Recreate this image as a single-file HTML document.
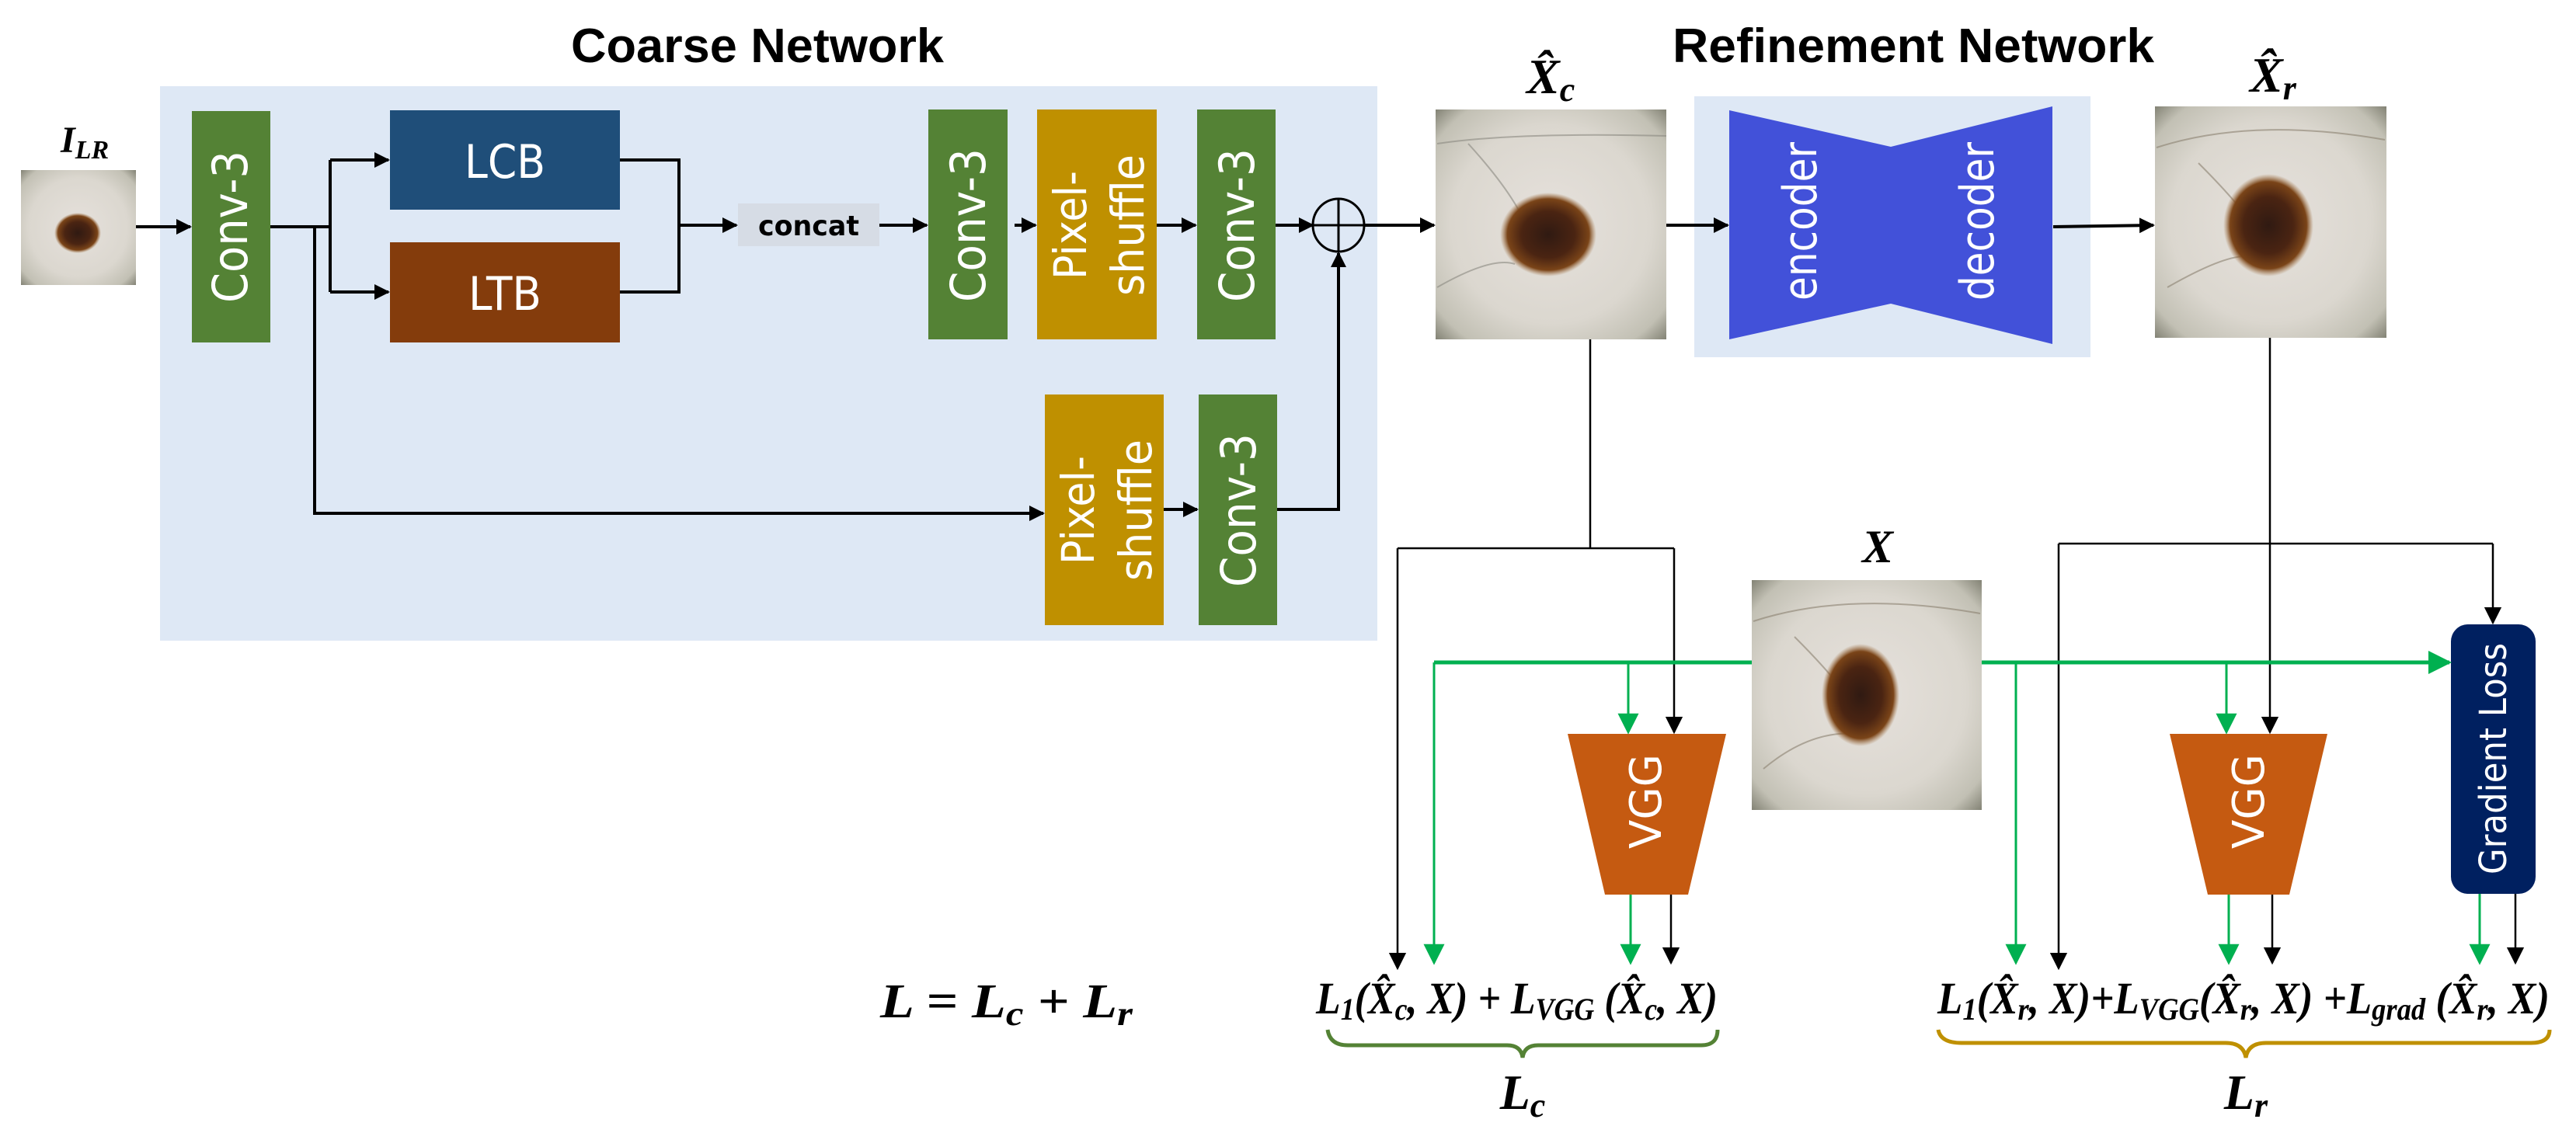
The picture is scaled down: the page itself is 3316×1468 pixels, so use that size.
<!DOCTYPE html>
<html><head><meta charset="utf-8"><style>
html,body{margin:0;padding:0;background:#fff;}
svg{display:block;}
.w{fill:#fff;font-family:"DejaVu Sans","Liberation Sans",sans-serif;}
.m{font-family:"Liberation Serif",serif;font-style:italic;font-weight:bold;fill:#000;}
</style></head><body>
<svg width="3316" height="1468" viewBox="0 0 3316 1468" xmlns="http://www.w3.org/2000/svg">
<defs>
<marker id="ab" viewBox="0 0 10 10" refX="9" refY="5" markerWidth="5" markerHeight="5" orient="auto" markerUnits="strokeWidth"><path d="M0,0 L10,5 L0,10 z" fill="#000"/></marker>
<marker id="at" viewBox="0 0 10 10" refX="9" refY="5" markerWidth="9" markerHeight="9" orient="auto" markerUnits="strokeWidth"><path d="M0,0 L10,5 L0,10 z" fill="#000"/></marker>
<marker id="ag" viewBox="0 0 10 10" refX="9" refY="5" markerWidth="9" markerHeight="9" orient="auto" markerUnits="strokeWidth"><path d="M0,0 L10,5 L0,10 z" fill="#00b050"/></marker>
<marker id="agb" viewBox="0 0 10 10" refX="9" refY="5" markerWidth="6" markerHeight="6" orient="auto" markerUnits="strokeWidth"><path d="M0,0 L10,5 L0,10 z" fill="#00b050"/></marker>
<radialGradient id="skin" cx="50%" cy="50%" r="72%">
<stop offset="0" stop-color="#e6e1dc"/><stop offset="0.6" stop-color="#dbd7cf"/><stop offset="0.85" stop-color="#c2c0b4"/><stop offset="1" stop-color="#7a7a6c"/></radialGradient>
<radialGradient id="les" cx="50%" cy="50%" r="50%">
<stop offset="0" stop-color="#301a12"/><stop offset="0.55" stop-color="#4a2412"/><stop offset="0.85" stop-color="#7a4418"/><stop offset="1" stop-color="#a07040" stop-opacity="0"/></radialGradient>
</defs>

<text x="975" y="80" font-family="Liberation Sans,sans-serif" font-weight="bold" font-size="62" text-anchor="middle" textLength="480" lengthAdjust="spacingAndGlyphs">Coarse Network</text>
<text x="2463" y="80" font-family="Liberation Sans,sans-serif" font-weight="bold" font-size="62" text-anchor="middle" textLength="620" lengthAdjust="spacingAndGlyphs">Refinement Network</text>

<rect x="206" y="111" width="1567" height="714" fill="#dee8f5"/>
<rect x="2181" y="124" width="510" height="336" fill="#dee8f5"/>

<g>
<rect x="27" y="219" width="148" height="148" fill="url(#skin)"/>
<ellipse cx="100" cy="300" rx="30" ry="26" fill="url(#les)"/>
<rect x="1848" y="141" width="297" height="296" fill="url(#skin)"/>
<path d="M1850,185 Q1950,170 2145,175 M1890,185 Q1940,240 1960,280 M1850,370 Q1920,330 1950,340" stroke="#8a8880" stroke-width="2" fill="none" opacity="0.6"/>
<ellipse cx="1993" cy="302" rx="62" ry="54" fill="url(#les)"/>
<rect x="2774" y="137" width="298" height="298" fill="url(#skin)"/>
<path d="M2776,190 Q2900,150 3070,180 M2830,210 Q2880,260 2900,290 M2790,370 Q2860,330 2890,330" stroke="#8a8070" stroke-width="2" fill="none" opacity="0.6"/>
<ellipse cx="2920" cy="290" rx="58" ry="66" fill="url(#les)"/>
<rect x="2255" y="747" width="296" height="296" fill="url(#skin)"/>
<path d="M2257,800 Q2380,760 2549,790 M2310,820 Q2360,870 2380,900 M2270,990 Q2330,940 2390,945" stroke="#8a8070" stroke-width="2" fill="none" opacity="0.6"/>
<ellipse cx="2395" cy="895" rx="50" ry="66" fill="url(#les)"/>
</g>

<text class="m" x="78" y="196" font-size="48">I<tspan font-size="34" dy="8">LR</tspan></text>
<text class="m" x="1965" y="120" font-size="64">X̂<tspan font-size="44" dy="10">c</tspan></text>
<text class="m" x="2896" y="118" font-size="64">X̂<tspan font-size="44" dy="10">r</tspan></text>
<text class="m" x="2417" y="724" font-size="60" text-anchor="middle">X</text>

<rect x="247" y="143" width="101" height="298" fill="#548235"/>
<text class="w" transform="translate(318,292) rotate(-90)" font-size="62" text-anchor="middle" textLength="196" lengthAdjust="spacingAndGlyphs">Conv-3</text>
<rect x="502" y="142" width="296" height="128" fill="#1f4e79"/>
<text class="w" x="650" y="229" font-size="60" text-anchor="middle" textLength="104" lengthAdjust="spacingAndGlyphs">LCB</text>
<rect x="502" y="312" width="296" height="129" fill="#843c0c"/>
<text class="w" x="650" y="399" font-size="60" text-anchor="middle" textLength="94" lengthAdjust="spacingAndGlyphs">LTB</text>
<rect x="950" y="262" width="182" height="55" fill="#d6dce5"/>
<text x="1041" y="303" font-family="DejaVu Sans,sans-serif" font-weight="bold" font-size="36" text-anchor="middle" textLength="130" lengthAdjust="spacingAndGlyphs">concat</text>

<rect x="1195" y="141" width="102" height="296" fill="#548235"/>
<text class="w" transform="translate(1268,290) rotate(-90)" font-size="62" text-anchor="middle" textLength="198" lengthAdjust="spacingAndGlyphs">Conv-3</text>
<rect x="1335" y="141" width="154" height="296" fill="#bf9000"/>
<text class="w" transform="translate(1398,290) rotate(-90)" font-size="58" text-anchor="middle" textLength="140" lengthAdjust="spacingAndGlyphs">Pixel-</text>
<text class="w" transform="translate(1472,290) rotate(-90)" font-size="58" text-anchor="middle" textLength="182" lengthAdjust="spacingAndGlyphs">shuffle</text>
<rect x="1541" y="141" width="101" height="296" fill="#548235"/>
<text class="w" transform="translate(1614,290) rotate(-90)" font-size="62" text-anchor="middle" textLength="198" lengthAdjust="spacingAndGlyphs">Conv-3</text>

<rect x="1345" y="508" width="153" height="297" fill="#bf9000"/>
<text class="w" transform="translate(1408,657) rotate(-90)" font-size="58" text-anchor="middle" textLength="140" lengthAdjust="spacingAndGlyphs">Pixel-</text>
<text class="w" transform="translate(1482,657) rotate(-90)" font-size="58" text-anchor="middle" textLength="182" lengthAdjust="spacingAndGlyphs">shuffle</text>
<rect x="1543" y="508" width="101" height="297" fill="#548235"/>
<text class="w" transform="translate(1616,657) rotate(-90)" font-size="62" text-anchor="middle" textLength="198" lengthAdjust="spacingAndGlyphs">Conv-3</text>

<ellipse cx="1723" cy="290" rx="33" ry="34" fill="none" stroke="#000" stroke-width="3"/>
<line x1="1690" y1="290" x2="1756" y2="290" stroke="#000" stroke-width="3"/>
<line x1="1723" y1="256" x2="1723" y2="324" stroke="#000" stroke-width="3"/>

<g stroke="#000" stroke-width="4" fill="none">
<line x1="175" y1="292" x2="245" y2="292" marker-end="url(#ab)"/>
<line x1="348" y1="292" x2="425" y2="292"/>
<polyline points="425,206 425,376"/>
<line x1="425" y1="206" x2="500" y2="206" marker-end="url(#ab)"/>
<line x1="425" y1="376" x2="500" y2="376" marker-end="url(#ab)"/>
<polyline points="798,206 874,206 874,376 798,376"/>
<line x1="874" y1="290" x2="948" y2="290" marker-end="url(#ab)"/>
<line x1="1132" y1="290" x2="1193" y2="290" marker-end="url(#ab)"/>
<line x1="1306" y1="290" x2="1333" y2="290" marker-end="url(#ab)"/>
<line x1="1489" y1="290" x2="1539" y2="290" marker-end="url(#ab)"/>
<line x1="1642" y1="290" x2="1690" y2="290" marker-end="url(#ab)"/>
<polyline points="405,292 405,661 1343,661" marker-end="url(#ab)"/>
<line x1="1498" y1="656" x2="1541" y2="656" marker-end="url(#ab)"/>
<polyline points="1644,656 1723,656 1723,326" marker-end="url(#ab)"/>
<line x1="1756" y1="290" x2="1846" y2="290" marker-end="url(#ab)"/>
<line x1="2145" y1="290" x2="2224" y2="290" marker-end="url(#ab)"/>
<polyline points="2643,292 2772,290" marker-end="url(#ab)"/>
</g>

<polygon points="2226,142 2434,189 2642,137 2642,443 2434,391 2226,437" fill="#4251d9"/>
<text class="w" transform="translate(2338,285) rotate(-90)" font-size="60" text-anchor="middle" textLength="204" lengthAdjust="spacingAndGlyphs">encoder</text>
<text class="w" transform="translate(2566,285) rotate(-90)" font-size="60" text-anchor="middle" textLength="204" lengthAdjust="spacingAndGlyphs">decoder</text>

<polygon points="2018,945 2222,945 2173,1152 2066,1152" fill="#c55a11"/>
<text class="w" transform="translate(2138,1032) rotate(-90)" font-size="56" text-anchor="middle" textLength="122" lengthAdjust="spacingAndGlyphs">VGG</text>
<polygon points="2793,945 2996,945 2947,1152 2842,1152" fill="#c55a11"/>
<text class="w" transform="translate(2914,1032) rotate(-90)" font-size="56" text-anchor="middle" textLength="122" lengthAdjust="spacingAndGlyphs">VGG</text>
<rect x="3155" y="804" width="109" height="347" rx="22" fill="#002060"/>
<text class="w" transform="translate(3226,977) rotate(-90)" font-size="48" text-anchor="middle" textLength="298" lengthAdjust="spacingAndGlyphs">Gradient Loss</text>

<g stroke="#000" stroke-width="2.5" fill="none">
<line x1="2047" y1="437" x2="2047" y2="706"/>
<polyline points="1799,706 2155,706"/>
<line x1="1799" y1="706" x2="1799" y2="1247" marker-end="url(#at)"/>
<line x1="2155" y1="706" x2="2155" y2="943" marker-end="url(#at)"/>
<line x1="2922" y1="435" x2="2922" y2="943" marker-end="url(#at)"/>
<polyline points="2650,700 3209,700"/>
<line x1="2650" y1="700" x2="2650" y2="1247" marker-end="url(#at)"/>
<line x1="3209" y1="700" x2="3209" y2="802" marker-end="url(#at)"/>
<line x1="2151" y1="1152" x2="2151" y2="1240" marker-end="url(#at)"/>
<line x1="2925" y1="1152" x2="2925" y2="1240" marker-end="url(#at)"/>
<line x1="3238" y1="1151" x2="3238" y2="1240" marker-end="url(#at)"/>
</g>
<g stroke="#00b050" fill="none">
<line x1="1846" y1="853" x2="1846" y2="1240" stroke-width="3" marker-end="url(#ag)"/>
<line x1="2255" y1="853" x2="1846" y2="853" stroke-width="5"/>
<line x1="2096" y1="853" x2="2096" y2="943" stroke-width="3" marker-end="url(#ag)"/>
<line x1="2551" y1="853" x2="3153" y2="853" stroke-width="5" marker-end="url(#agb)"/>
<line x1="2595" y1="853" x2="2595" y2="1240" stroke-width="3" marker-end="url(#ag)"/>
<line x1="2866" y1="853" x2="2866" y2="943" stroke-width="3" marker-end="url(#ag)"/>
<line x1="2099" y1="1152" x2="2099" y2="1240" stroke-width="3" marker-end="url(#ag)"/>
<line x1="2869" y1="1152" x2="2869" y2="1240" stroke-width="3" marker-end="url(#ag)"/>
<line x1="3192" y1="1151" x2="3192" y2="1240" stroke-width="3" marker-end="url(#ag)"/>
</g>

<text class="m" x="1133" y="1310" font-size="62" textLength="325" lengthAdjust="spacingAndGlyphs">L = L<tspan font-size="44" dy="10">c</tspan><tspan dy="-10"> + L</tspan><tspan font-size="44" dy="10">r</tspan></text>
<text class="m" x="1694" y="1305" font-size="58" textLength="517" lengthAdjust="spacingAndGlyphs">L<tspan font-size="40" dy="8">1</tspan><tspan dy="-8">(X̂</tspan><tspan font-size="40" dy="8">c</tspan><tspan dy="-8">, X) + L</tspan><tspan font-size="40" dy="8">VGG</tspan><tspan dy="-8"> (X̂</tspan><tspan font-size="40" dy="8">c</tspan><tspan dy="-8">, X)</tspan></text>
<text class="m" x="2494" y="1305" font-size="58" textLength="788" lengthAdjust="spacingAndGlyphs">L<tspan font-size="40" dy="8">1</tspan><tspan dy="-8">(X̂</tspan><tspan font-size="40" dy="8">r</tspan><tspan dy="-8">, X)+L</tspan><tspan font-size="40" dy="8">VGG</tspan><tspan dy="-8">(X̂</tspan><tspan font-size="40" dy="8">r</tspan><tspan dy="-8">, X) +L</tspan><tspan font-size="40" dy="8">grad</tspan><tspan dy="-8"> (X̂</tspan><tspan font-size="40" dy="8">r</tspan><tspan dy="-8">, X)</tspan></text>

<path d="M1709,1326 Q1712,1346 1735,1346 L1940,1346 Q1958,1346 1960,1362 Q1962,1346 1980,1346 L2190,1346 Q2211,1346 2211,1326" stroke="#548235" stroke-width="5" fill="none"/>
<path d="M2495,1326 Q2498,1343 2525,1343 L2865,1343 Q2888,1343 2891,1362 Q2894,1343 2917,1343 L3258,1343 Q3282,1343 3282,1326" stroke="#bf9000" stroke-width="5" fill="none"/>
<text class="m" x="1960" y="1428" font-size="64" text-anchor="middle">L<tspan font-size="44" dy="10">c</tspan></text>
<text class="m" x="2891" y="1428" font-size="64" text-anchor="middle">L<tspan font-size="44" dy="10">r</tspan></text>
</svg>
</body></html>
